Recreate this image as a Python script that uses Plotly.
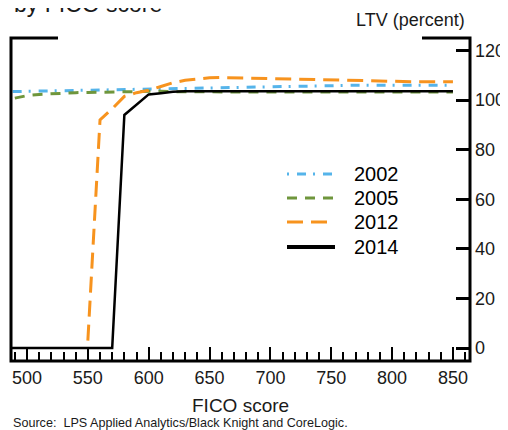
import plotly.graph_objects as go

# ---- data ----
fico = list(range(480, 851, 10))

ltv_2002 = [103.4, 103.4, 103.5, 103.6, 103.7, 103.8, 103.9, 104.0, 104.1, 104.2,
            104.3, 104.4, 104.5, 104.5, 104.6, 104.7, 104.8, 104.8, 104.9, 105.0,
            105.1, 105.2, 105.4, 105.6, 105.7, 105.8, 105.9, 106.0, 106.0, 106.0,
            106.0, 106.0, 106.0, 106.0, 106.0, 106.0, 106.0, 106.0]
ltv_2005 = [None, 100.8, 101.8, 102.3, 102.6, 102.8, 103.0, 103.1, 103.2, 103.3,
            103.4, 103.6, 103.7, 103.6, 103.4, 103.3, 103.3, 103.3, 103.3, 103.3,
            103.3, 103.3, 103.3, 103.3, 103.3, 103.3, 103.3, 103.3, 103.3, 103.3,
            103.3, 103.3, 103.3, 103.3, 103.3, 103.3, 103.3, 103.3]
ltv_2012 = [None, None, None, None, None, None, None, 3.0, 92.0, 96.5,
            101.5, 103.0, 104.0, 105.5, 107.0, 108.0, 108.6, 109.0, 109.1, 109.0,
            108.9, 108.7, 108.6, 108.4, 108.3, 108.1, 108.0, 107.9, 107.8, 107.7,
            107.6, 107.6, 107.5, 107.5, 107.4, 107.4, 107.4, 107.4]
ltv_2014 = [0, 0, 0, 0, 0, 0, 0, 0, 0, 0,
            94.0, 98.3, 102.3, 102.8, 103.4, 103.6, 103.6, 103.6, 103.6, 103.6,
            103.6, 103.6, 103.6, 103.6, 103.6, 103.6, 103.6, 103.6, 103.6, 103.6,
            103.6, 103.6, 103.6, 103.6, 103.6, 103.6, 103.6, 103.6]

series_names = ["2002", "2005", "2012", "2014"]
series_values = [ltv_2002, ltv_2005, ltv_2012, ltv_2014]
y_ticks = [0, 20, 40, 60, 80, 100, 120]

# ---- styles ----
styles = [
    dict(color="#55b4ea", width=3, dash="2px,8px,9px,7px"),
    dict(color="#6f963c", width=3, dash="10px,8px"),
    dict(color="#f7931e", width=3, dash="16px,8px"),
    dict(color="#000000", width=2.5, dash="solid"),
]

FONT = "Liberation Sans, Arial, sans-serif"
OFF = 8  # default body margin of the html page
W, H = 500, 422
ML, MR, MT, MB = 3, 38, 30, 69
PW, PH = W - ML - MR, H - MT - MB


def px_x(px):  # page pixel -> paper x
    return (px - OFF - ML) / PW


def px_y(py):  # page pixel -> paper y
    return (H - MB - (py - OFF)) / PH


fig = go.Figure()
for name, vals, st in zip(series_names, series_values, styles):
    fig.add_trace(go.Scatter(x=fico, y=vals, mode="lines", name=name,
                             line=st, showlegend=False, connectgaps=False))

# frame (with the two short top stubs)
sl, sr = px_x(58), px_x(422)
fig.add_shape(type="path", xref="paper", yref="paper",
              path=f"M {sl},1 L 0,1 L 0,0 L 1,0 L 1,1 L {sr},1",
              line=dict(color="black", width=3), layer="above")

# manual legend
leg_y = [174, 198, 222, 247]
for name, st, yy in zip(series_names, styles, leg_y):
    lw = 4 if st["dash"] == "solid" else st["width"]
    fig.add_shape(type="line", xref="paper", yref="paper",
                  x0=px_x(287), x1=px_x(335), y0=px_y(yy), y1=px_y(yy),
                  line=dict(color=st["color"], width=lw, dash=st["dash"]))
    fig.add_annotation(x=px_x(352), y=px_y(yy), xref="paper", yref="paper",
                       text=name, showarrow=False, xanchor="left", yanchor="middle",
                       font=dict(size=20, color="black", family=FONT))

fig.add_annotation(x=px_x(467), y=px_y(20), xref="paper", yref="paper",
                   text="LTV (percent)", showarrow=False, xanchor="right",
                   yanchor="middle", font=dict(size=18, color="#1a1a1a", family=FONT))
fig.add_annotation(x=px_x(240), y=px_y(405), xref="paper", yref="paper",
                   text="FICO score", showarrow=False, xanchor="center",
                   yanchor="middle", font=dict(size=19, color="#1a1a1a", family=FONT))
fig.add_annotation(x=px_x(11), y=px_y(423), xref="paper", yref="paper",
                   text="Source:  LPS Applied Analytics/Black Knight and CoreLogic.",
                   showarrow=False, xanchor="left", yanchor="middle",
                   font=dict(size=12.6, color="#1a1a1a", family=FONT))
fig.add_annotation(x=px_x(12), y=px_y(19), xref="paper", yref="paper",
                   text="by FICO score", showarrow=False, xanchor="left",
                   yanchor="bottom", font=dict(size=23, color="#1a1a1a", family=FONT))

x0 = 500 - 16 / 1.217
x1 = x0 + PW / 1.217
y0 = -13 / 2.479
y1 = 310 / 2.479

fig.update_layout(
    width=W, height=H,
    margin=dict(l=ML, r=MR, t=MT, b=MB, pad=0),
    paper_bgcolor="white", plot_bgcolor="white",
    font=dict(family=FONT, color="#1a1a1a", size=18),
    xaxis=dict(range=[x0, x1], tickmode="linear", tick0=500, dtick=50,
               ticks="inside", ticklen=14, tickwidth=2, tickcolor="black",
               minor=dict(tick0=500, dtick=10, ticks="inside", ticklen=9,
                          tickwidth=2, tickcolor="black", showgrid=False),
               ticklabelstandoff=4,
               showgrid=False, zeroline=False, showline=False,
               tickfont=dict(size=18, family=FONT, color="#1a1a1a")),
    yaxis=dict(range=[y0, y1], side="right", tickmode="array", tickvals=y_ticks,
               ticks="inside", ticklen=14, tickwidth=3, tickcolor="black",
               ticklabelstandoff=4,
               showgrid=False, zeroline=False, showline=False,
               tickfont=dict(size=18, family=FONT, color="#1a1a1a")),
)

fig.write_html("out.html")
